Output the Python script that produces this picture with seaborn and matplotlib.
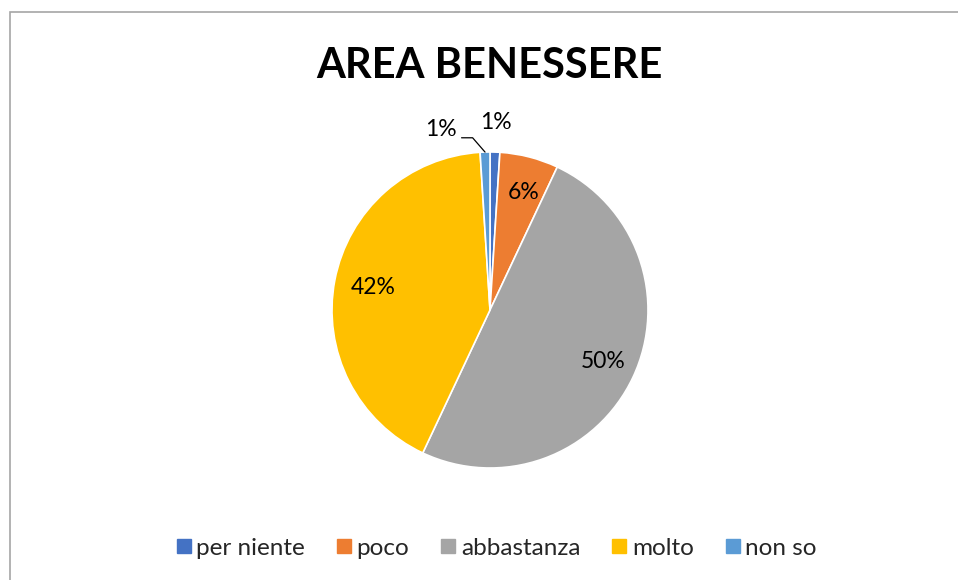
import numpy as np
import seaborn as sns
import matplotlib.pyplot as plt
from matplotlib.patches import Rectangle
from matplotlib.lines import Line2D

sns.set_theme(style="white")
plt.rcParams['font.family'] = ['Lato', 'DejaVu Sans']

# dati
categorie = ["per niente", "poco", "abbastanza", "molto", "non so"]
valori = [1, 6, 50, 42, 1]
colori = ["#4472C4", "#ED7D31", "#A5A5A5", "#FFC000", "#5B9BD5"]

fig = plt.figure(figsize=(9.58, 5.8), dpi=100)

# cornice grigia (solo bordo sinistro e superiore visibili)
fig.patches.append(Rectangle((10 / 958, -0.1), 1.2, (580 - 12) / 580 + 0.1,
                             transform=fig.transFigure, fill=False,
                             edgecolor="#A6A6A6", linewidth=1.2))

ax = fig.add_axes([(490 - 158) / 958, (580 - 468) / 580, 316 / 958, 316 / 580])
wedges, testi = ax.pie(valori, colors=colori, startangle=90, counterclock=False,
                       wedgeprops=dict(edgecolor="white", linewidth=1.2))
ax.set_xlim(-1, 1)
ax.set_ylim(-1, 1)
ax.set_aspect("equal")
ax.axis("off")

tot = sum(valori)
for w, v in zip(wedges, valori):
    ang = np.deg2rad((w.theta1 + w.theta2) / 2)
    pct = f"{round(v / tot * 100):d}%"
    if v >= 5:
        ax.text(0.77 * np.cos(ang) + 0.02, 0.77 * np.sin(ang), pct, ha="center",
                va="center", fontsize=16.5, color="#000000")

# etichette esterne per le fette piccole
a0 = np.deg2rad((wedges[0].theta1 + wedges[0].theta2) / 2)
ax.text(1.19 * np.cos(a0), 1.19 * np.sin(a0), "1%", ha="center", va="center",
        fontsize=16.5, color="#000000", clip_on=False)
a4 = np.deg2rad((wedges[4].theta1 + wedges[4].theta2) / 2)
ax.text(-0.21, 1.14, "1%", ha="right", va="center", fontsize=16.5,
        color="#000000", clip_on=False)
ax.add_line(Line2D([-0.18, -0.11, np.cos(a4)], [1.09, 1.09, np.sin(a4)],
                   color="#000000", linewidth=0.9, clip_on=False))

fig.text(0.511, 1 - 66 / 580, "AREA BENESSERE", ha="center", va="center",
         fontsize=30, fontweight="bold", color="#000000")

handles = [Line2D([0], [0], marker="s", linestyle="", markersize=10,
                  markerfacecolor=c, markeredgecolor=c) for c in colori]
fig.legend(handles, categorie, loc="center", bbox_to_anchor=(0.519, 1 - 548 / 580),
           ncol=5, frameon=False, fontsize=17.5, handlelength=0.5,
           handletextpad=0.28, columnspacing=1.34)

fig.savefig("out.png", dpi=100, facecolor="white")
